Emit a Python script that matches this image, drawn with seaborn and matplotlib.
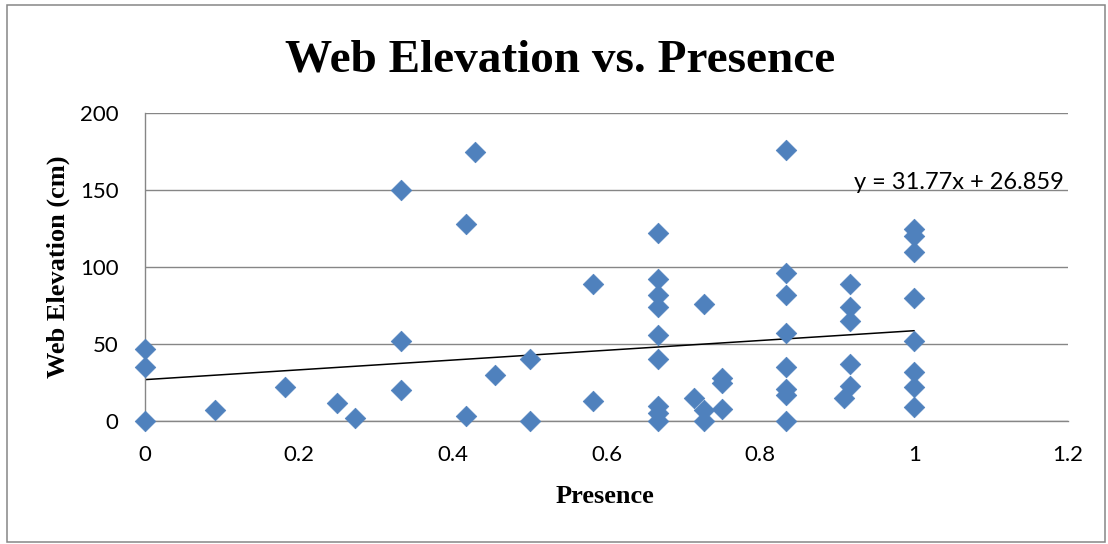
import numpy as np
import pandas as pd
import matplotlib
matplotlib.use('Agg')
import matplotlib.pyplot as plt
import seaborn as sns
from matplotlib.patches import Rectangle

# values
presence = [0, 0, 0, 0.091, 0.182, 0.25, 0.273, 0.333, 0.333, 0.333,
            0.417, 0.417, 0.429, 0.455, 0.5, 0.5, 0.583, 0.583,
            0.667, 0.667, 0.667, 0.667, 0.667, 0.667, 0.667, 0.667, 0.667,
            0.714, 0.727, 0.727, 0.727, 0.75, 0.75, 0.75,
            0.833, 0.833, 0.833, 0.833, 0.833, 0.833, 0.833, 0.833,
            0.909, 0.917, 0.917, 0.917, 0.917, 0.917,
            1, 1, 1, 1, 1, 1, 1, 1]
elevation = [47, 35, 0, 7, 22, 12, 2, 150, 52, 20,
             128, 3, 175, 30, 40, 0, 89, 13,
             122, 92, 82, 74, 56, 40, 10, 5, 0,
             15, 76, 7, 0, 28, 25, 8,
             176, 96, 82, 57, 35, 21, 17, 0,
             15, 89, 74, 65, 37, 23,
             125, 120, 110, 80, 52, 32, 22, 9]

slope = 31.77
intercept = 26.859
trend_x = [0, 1]

x_ticks = [0, 0.2, 0.4, 0.6, 0.8, 1.0, 1.2]
x_tick_labels = ['0', '0.2', '0.4', '0.6', '0.8', '1', '1.2']
y_ticks = [0, 50, 100, 150, 200]
y_tick_labels = ['0', '50', '100', '150', '200']

df = pd.DataFrame({'Presence': presence, 'Web Elevation (cm)': elevation})

sns.set_style('white')
plt.rcParams['font.family'] = ['Lato', 'DejaVu Sans']
plt.rcParams['text.color'] = 'black'
plt.rcParams['axes.labelcolor'] = 'black'

grey = '#868686'
blue = '#4F81BD'

fig = plt.figure(figsize=(11.08, 5.44), dpi=100)
ax = fig.add_axes([145/1108, 1-421/544, 923/1108, 308/544])

sns.scatterplot(data=df, x='Presence', y='Web Elevation (cm)', marker='D',
                s=110, color=blue, edgecolor=blue, linewidth=0.5, ax=ax,
                zorder=3, clip_on=False)

tx = np.array(trend_x)
ax.plot(tx, slope*tx + intercept, color='black', lw=1.1, zorder=2)

ax.text(1.194, 150.6, 'y = 31.77x + 26.859', ha='right', va='baseline',
        fontsize=17, color='black')

ax.set_xlim(0, 1.2)
ax.set_ylim(0, 200)
ax.set_xticks(x_ticks)
ax.set_xticklabels(x_tick_labels)
ax.set_yticks(y_ticks)
ax.set_yticklabels(y_tick_labels)
ax.tick_params(axis='both', direction='out', length=6, width=1.0, color=grey,
               labelsize=16, labelcolor='black')
ax.tick_params(axis='y', pad=13)
ax.tick_params(axis='x', pad=11)

ax.yaxis.grid(True, color=grey, lw=1.0)
ax.xaxis.grid(False)
ax.set_axisbelow(True)
for side in ['top', 'right']:
    ax.spines[side].set_visible(False)
for side in ['left', 'bottom']:
    ax.spines[side].set_color(grey)
    ax.spines[side].set_linewidth(1.0)

ax.set_xlabel('Presence', family='Liberation Serif', fontweight='bold',
              fontsize=19, color='black')
ax.xaxis.set_label_coords(0.498, -0.207)
ax.set_ylabel('Web Elevation (cm)', family='Liberation Serif',
              fontweight='bold', fontsize=19, color='black')
ax.yaxis.set_label_coords(-0.081, 0.5)

fig.text(560/1108, 1-71/544, 'Web Elevation vs. Presence', ha='center',
         va='baseline', family='Liberation Serif', fontweight='bold',
         fontsize=34, color='black')

fig.patches.append(Rectangle((7/1108, 1-542/544), 1098/1108, 537/544,
                             transform=fig.transFigure, fill=False,
                             edgecolor=grey, lw=1.1))

fig.savefig('out.png', dpi=100)
